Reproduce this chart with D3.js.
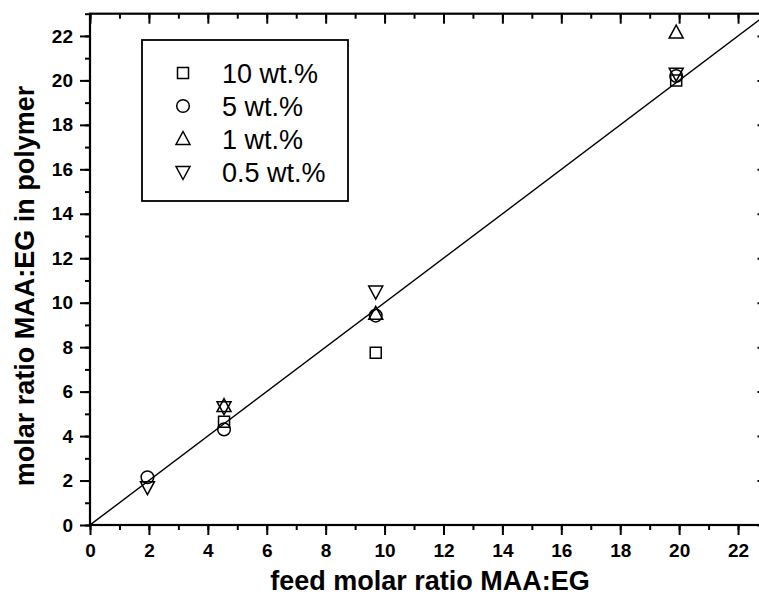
<!DOCTYPE html>
<html>
<head>
<meta charset="utf-8">
<script src="https://cdn.jsdelivr.net/npm/d3@7"></script>
<style>
  html, body { margin: 0; padding: 0; background: #fff; }
  svg { display: block; }
  text { font-family: "Liberation Sans", Arial, Helvetica, sans-serif; fill: #000; }
</style>
</head>
<body>
<svg id="chart" width="759" height="604"></svg>
<script>
// ---- data ----
const seriesNames = ["10 wt.%", "5 wt.%", "1 wt.%", "0.5 wt.%"];
const seriesSymbols = ["square", "circle", "triangleUp", "triangleDown"];
const feed10 = [4.55, 9.7, 19.9];
const poly10 = [4.65, 7.75, 20.0];
const feed5 = [1.95, 4.55, 9.7, 19.9];
const poly5 = [2.15, 4.3, 9.42, 20.2];
const feed1 = [4.55, 9.7, 19.9];
const poly1 = [5.35, 9.5, 22.15];
const feed05 = [1.95, 4.55, 9.7, 19.9];
const poly05 = [1.7, 5.3, 10.5, 20.3];
const xTicks = [0, 2, 4, 6, 8, 10, 12, 14, 16, 18, 20, 22];
const yTicks = [0, 2, 4, 6, 8, 10, 12, 14, 16, 18, 20, 22];
const refLine = [[0, 0], [23, 23]];

const series = [
  { name: seriesNames[0], sym: seriesSymbols[0], xs: feed10, ys: poly10 },
  { name: seriesNames[1], sym: seriesSymbols[1], xs: feed5, ys: poly5 },
  { name: seriesNames[2], sym: seriesSymbols[2], xs: feed1, ys: poly1 },
  { name: seriesNames[3], sym: seriesSymbols[3], xs: feed05, ys: poly05 }
];

// ---- layout ----
const svg = d3.select("#chart");
const L = 90, R = 767.5, T = 13.7, B = 525;
const x = d3.scaleLinear().domain([0, 23]).range([L, R]);
const y = d3.scaleLinear().domain([0, 23]).range([B, T]);

function symbolPath(sym) {
  switch (sym) {
    case "square": return "M-5.5,-5.5H5.5V5.5H-5.5Z";
    case "circle": return "M6.3,0A6.3,6.3 0 1,1 -6.3,0A6.3,6.3 0 1,1 6.3,0Z";
    case "triangleUp": return "M0,-7.5L7,5.5L-7,5.5Z";
    case "triangleDown": return "M0,7.5L7,-5.5L-7,-5.5Z";
  }
}

svg.append("defs").append("clipPath").attr("id", "plotclip")
  .append("rect").attr("x", L).attr("y", T).attr("width", R - L).attr("height", B - T);

// reference line y = x
svg.append("path")
  .attr("clip-path", "url(#plotclip)")
  .attr("d", d3.line().x(d => x(d[0])).y(d => y(d[1]))(refLine))
  .attr("fill", "none").attr("stroke", "#000").attr("stroke-width", 1.4);

// axes
const minorX = d3.range(0, 24, 1);
const minorY = d3.range(0, 24, 1);

function axisGroup(gen, tr) {
  const g = svg.append("g").attr("transform", tr).call(gen);
  g.select(".domain").remove();
  return g;
}
axisGroup(d3.axisBottom(x).tickValues(minorX).tickSize(5).tickFormat(""), `translate(0,${B})`);
axisGroup(d3.axisBottom(x).tickValues(xTicks).tickSize(10).tickPadding(9).tickFormat(d3.format("d")), `translate(0,${B})`);
axisGroup(d3.axisLeft(y).tickValues(minorY).tickSize(5).tickFormat(""), `translate(${L},0)`);
axisGroup(d3.axisLeft(y).tickValues(yTicks).tickSize(10).tickPadding(7).tickFormat(d3.format("d")), `translate(${L},0)`);
// top (inward) and right (inward)
axisGroup(d3.axisBottom(x).tickValues(minorX).tickSize(5).tickFormat(""), `translate(0,${T})`);
axisGroup(d3.axisBottom(x).tickValues(xTicks).tickSize(10).tickFormat(""), `translate(0,${T})`);
axisGroup(d3.axisLeft(y).tickValues(minorY).tickSize(5).tickFormat(""), `translate(${R},0)`);
axisGroup(d3.axisLeft(y).tickValues(yTicks).tickSize(10).tickFormat(""), `translate(${R},0)`);

svg.selectAll(".tick line").attr("stroke", "#000").attr("stroke-width", 2);
svg.selectAll(".tick text")
  .attr("font-family", "'Liberation Sans', Arial, sans-serif")
  .attr("font-size", 19).attr("font-weight", "bold").attr("fill", "#000");

// frame
svg.append("rect").attr("x", L).attr("y", T).attr("width", R - L).attr("height", B - T)
  .attr("fill", "none").attr("stroke", "#000").attr("stroke-width", 2.2);

// data markers
series.forEach(s => {
  svg.append("g").selectAll("path")
    .data(s.xs.map((v, i) => [v, s.ys[i]]))
    .join("path")
    .attr("transform", d => `translate(${x(d[0])},${y(d[1])})`)
    .attr("d", symbolPath(s.sym))
    .attr("fill", "none").attr("stroke", "#000").attr("stroke-width", 1.5);
});

// legend
const lg = svg.append("g");
lg.append("rect").attr("x", 142).attr("y", 40).attr("width", 206).attr("height", 161)
  .attr("fill", "#fff").attr("stroke", "#000").attr("stroke-width", 1.8);
const rowY = [73, 106, 139, 172];
series.forEach((s, i) => {
  lg.append("path").attr("transform", `translate(183,${rowY[i]})`)
    .attr("d", symbolPath(s.sym))
    .attr("fill", "none").attr("stroke", "#000").attr("stroke-width", 1.5);
  lg.append("text").attr("x", 222).attr("y", rowY[i] + 9.5)
    .attr("font-size", 27).text(s.name);
});

// axis titles
svg.append("text").attr("x", 430).attr("y", 590).attr("text-anchor", "middle")
  .attr("font-size", 27).attr("font-weight", "bold").text("feed molar ratio MAA:EG");
svg.append("text").attr("transform", "translate(34,286) rotate(-90)").attr("text-anchor", "middle")
  .attr("font-size", 27).attr("font-weight", "bold").text("molar ratio MAA:EG in polymer");
</script>
</body>
</html>
